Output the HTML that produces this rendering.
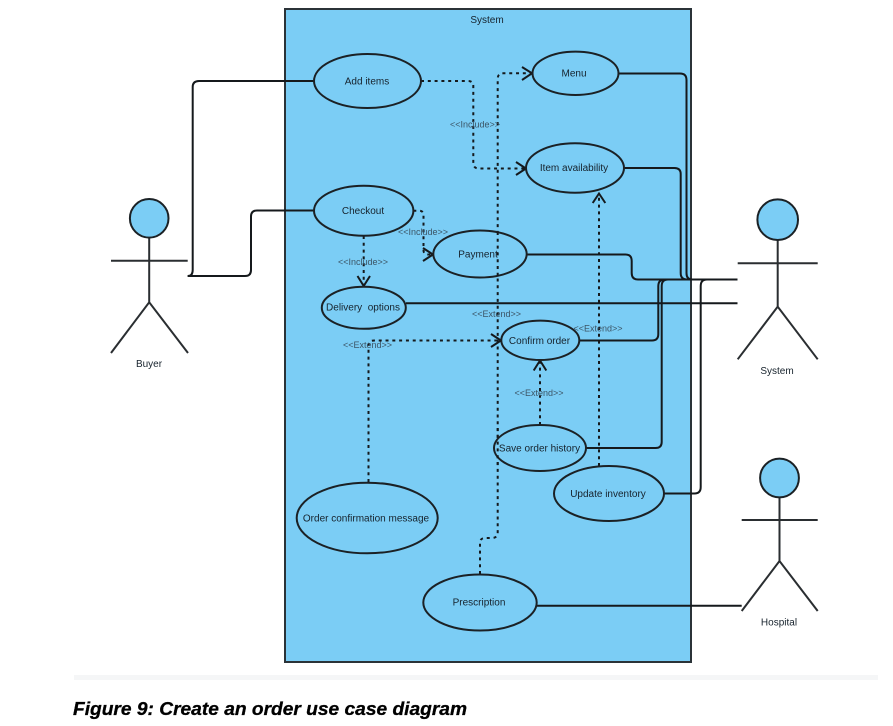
<!DOCTYPE html>
<html>
<head>
<meta charset="utf-8">
<style>
html,body{margin:0;padding:0;background:#fff;width:893px;height:726px;overflow:hidden}
svg{display:block;filter:blur(0.35px)}
text{font-family:"Liberation Sans",sans-serif}
.t{font-size:10px;fill:#16222c;text-anchor:middle}
.l{font-size:9px;fill:#3c5566;text-anchor:middle}
.e{fill:#7bcdf5;stroke:#1b2125;stroke-width:2}
.c{fill:none;stroke:#15191c;stroke-width:2}
.d{fill:none;stroke:#15191c;stroke-width:2;stroke-dasharray:3 3.8}
.a{fill:none;stroke:#15191c;stroke-width:2}
.s{fill:none;stroke:#2a2e31;stroke-width:2}
</style>
</head>
<body>
<svg width="893" height="726" viewBox="0 0 893 726" xmlns="http://www.w3.org/2000/svg">
<rect x="74" y="675" width="804" height="5" fill="#f5f6f7"/>
<rect x="285" y="9" width="406" height="653" fill="#7bcdf5" stroke="#2b3338" stroke-width="2"/>
<text class="t" x="487" y="23">System</text>

<!-- solid connectors -->
<path class="c" d="M314 81H199Q192.7 81 192.7 87V270Q192.7 276 187.7 276"/>
<path class="c" d="M314 210.5H257Q251 210.5 251 216.5V270Q251 276 245 276H187.7"/>
<path class="c" d="M618 73.5H680Q686.5 73.5 686.5 80V273Q686.5 279.5 692 279.5"/>
<path class="c" d="M624 168H674.5Q680.7 168 680.7 174V273Q680.7 279.5 687 279.5"/>
<path class="c" d="M526.7 254.5H625.5Q631.7 254.5 631.7 261V273Q631.7 279.5 638 279.5H737.5"/>
<path class="c" d="M406 303.3H737.5"/>
<path class="c" d="M579 340.5H652Q658.3 340.5 658.3 334V286Q658.3 279.5 665 279.5"/>
<path class="c" d="M586 448H655.5Q661.7 448 661.7 442V286Q661.7 279.5 668 279.5"/>
<path class="c" d="M664 493.5H694.5Q700.7 493.5 700.7 487V286Q700.7 279.5 707 279.5"/>
<path class="c" d="M536.7 605.7H741.7"/>

<!-- dashed connectors -->
<path class="d" d="M421 81H468Q473.3 81 473.3 86V163Q473.3 168.5 479 168.5H525"/>
<path class="a" d="M516 162L526 168.5L516 175"/>
<path class="d" d="M413.3 210.7H419Q423.5 210.7 423.5 215V250Q423.5 254.5 428 254.5H432"/>
<path class="a" d="M423 248L433 254.5L423 261"/>
<path class="d" d="M363.7 236V285"/>
<path class="a" d="M357.5 276L363.7 286L370 276"/>
<path class="d" d="M480 574V543Q480 538 485 538H492Q497.7 538 497.7 532V79Q497.7 73.3 503 73.3H531"/>
<path class="a" d="M522 67L532 73.3L522 80"/>
<path class="d" d="M599 466V194"/>
<path class="a" d="M592.7 203L599 193.5L605.3 203"/>
<path class="d" d="M368.5 482V346Q368.5 340.5 374 340.5H500"/>
<path class="a" d="M491 334L501 340.5L491 347"/>
<path class="d" d="M540 425V361"/>
<path class="a" d="M533.7 370.5L540 360.5L546.3 370.5"/>

<!-- use cases -->
<ellipse class="e" cx="367.5" cy="81" rx="53.5" ry="27"/>
<ellipse class="e" cx="575.5" cy="73.3" rx="43" ry="21.7"/>
<ellipse class="e" cx="575" cy="168" rx="49" ry="24.7"/>
<ellipse class="e" cx="363.7" cy="210.7" rx="49.7" ry="25"/>
<ellipse class="e" cx="480" cy="254" rx="46.7" ry="23.5"/>
<ellipse class="e" cx="363.8" cy="307.8" rx="42" ry="21"/>
<ellipse class="e" cx="540.3" cy="340.3" rx="39" ry="19.7"/>
<ellipse class="e" cx="540" cy="448" rx="46" ry="23"/>
<ellipse class="e" cx="609" cy="493.5" rx="55" ry="27.5"/>
<ellipse class="e" cx="367.2" cy="518" rx="70.5" ry="35.3"/>
<ellipse class="e" cx="480" cy="602.5" rx="56.7" ry="28"/>

<!-- dashes that overlap the ellipses -->
<path class="d" d="M497.7 232V278"/>
<path class="d" d="M497.7 428V468"/>

<text class="t" x="367" y="84.5">Add items</text>
<text class="t" x="574" y="76.5">Menu</text>
<text class="t" x="574" y="171">Item availability</text>
<text class="t" x="363" y="214">Checkout</text>
<text class="t" x="478" y="257.5">Payment</text>
<text class="t" x="363" y="310.5" xml:space="preserve">Delivery  options</text>
<text class="t" x="539.5" y="344">Confirm order</text>
<text class="t" x="539.5" y="451.5">Save order history</text>
<text class="t" x="608" y="497">Update inventory</text>
<text class="t" x="366" y="521.5">Order confirmation message</text>
<text class="t" x="479" y="605.5">Prescription</text>

<text class="l" x="475" y="127.5">&lt;&lt;Include&gt;&gt;</text>
<text class="l" x="423" y="235">&lt;&lt;Include&gt;&gt;</text>
<text class="l" x="363" y="265">&lt;&lt;Include&gt;&gt;</text>
<text class="l" x="496.5" y="317">&lt;&lt;Extend&gt;&gt;</text>
<text class="l" x="367.5" y="348">&lt;&lt;Extend&gt;&gt;</text>
<text class="l" x="598" y="331.5">&lt;&lt;Extend&gt;&gt;</text>
<text class="l" x="539" y="396">&lt;&lt;Extend&gt;&gt;</text>

<!-- Buyer -->
<g>
<path class="s" d="M149.2 237.7V302.3M111 260.7H187.7M111 353L149.2 302.3L188 353"/>
<circle class="e" cx="149.2" cy="218.3" r="19.3"/>
<text class="t" x="149" y="367">Buyer</text>
</g>
<!-- System -->
<g>
<path class="s" d="M777.7 240V306.7M737.7 263.3H817.7M737.7 359.3L777.7 306.7L817.7 359.3"/>
<circle class="e" cx="777.7" cy="219.7" r="20.3"/>
<text class="t" x="777" y="374">System</text>
</g>
<!-- Hospital -->
<g>
<path class="s" d="M779.5 497.3V561M741.7 520H817.7M741.7 611L779.5 561L817.7 611"/>
<circle class="e" cx="779.5" cy="478" r="19.4"/>
<text class="t" x="779" y="625.5">Hospital</text>
</g>

<text x="73" y="715" font-size="18" font-weight="bold" font-style="italic" fill="#000" stroke="#000" stroke-width="0.3" textLength="394" lengthAdjust="spacingAndGlyphs">Figure 9: Create an order use case diagram</text>
</svg>
</body>
</html>
